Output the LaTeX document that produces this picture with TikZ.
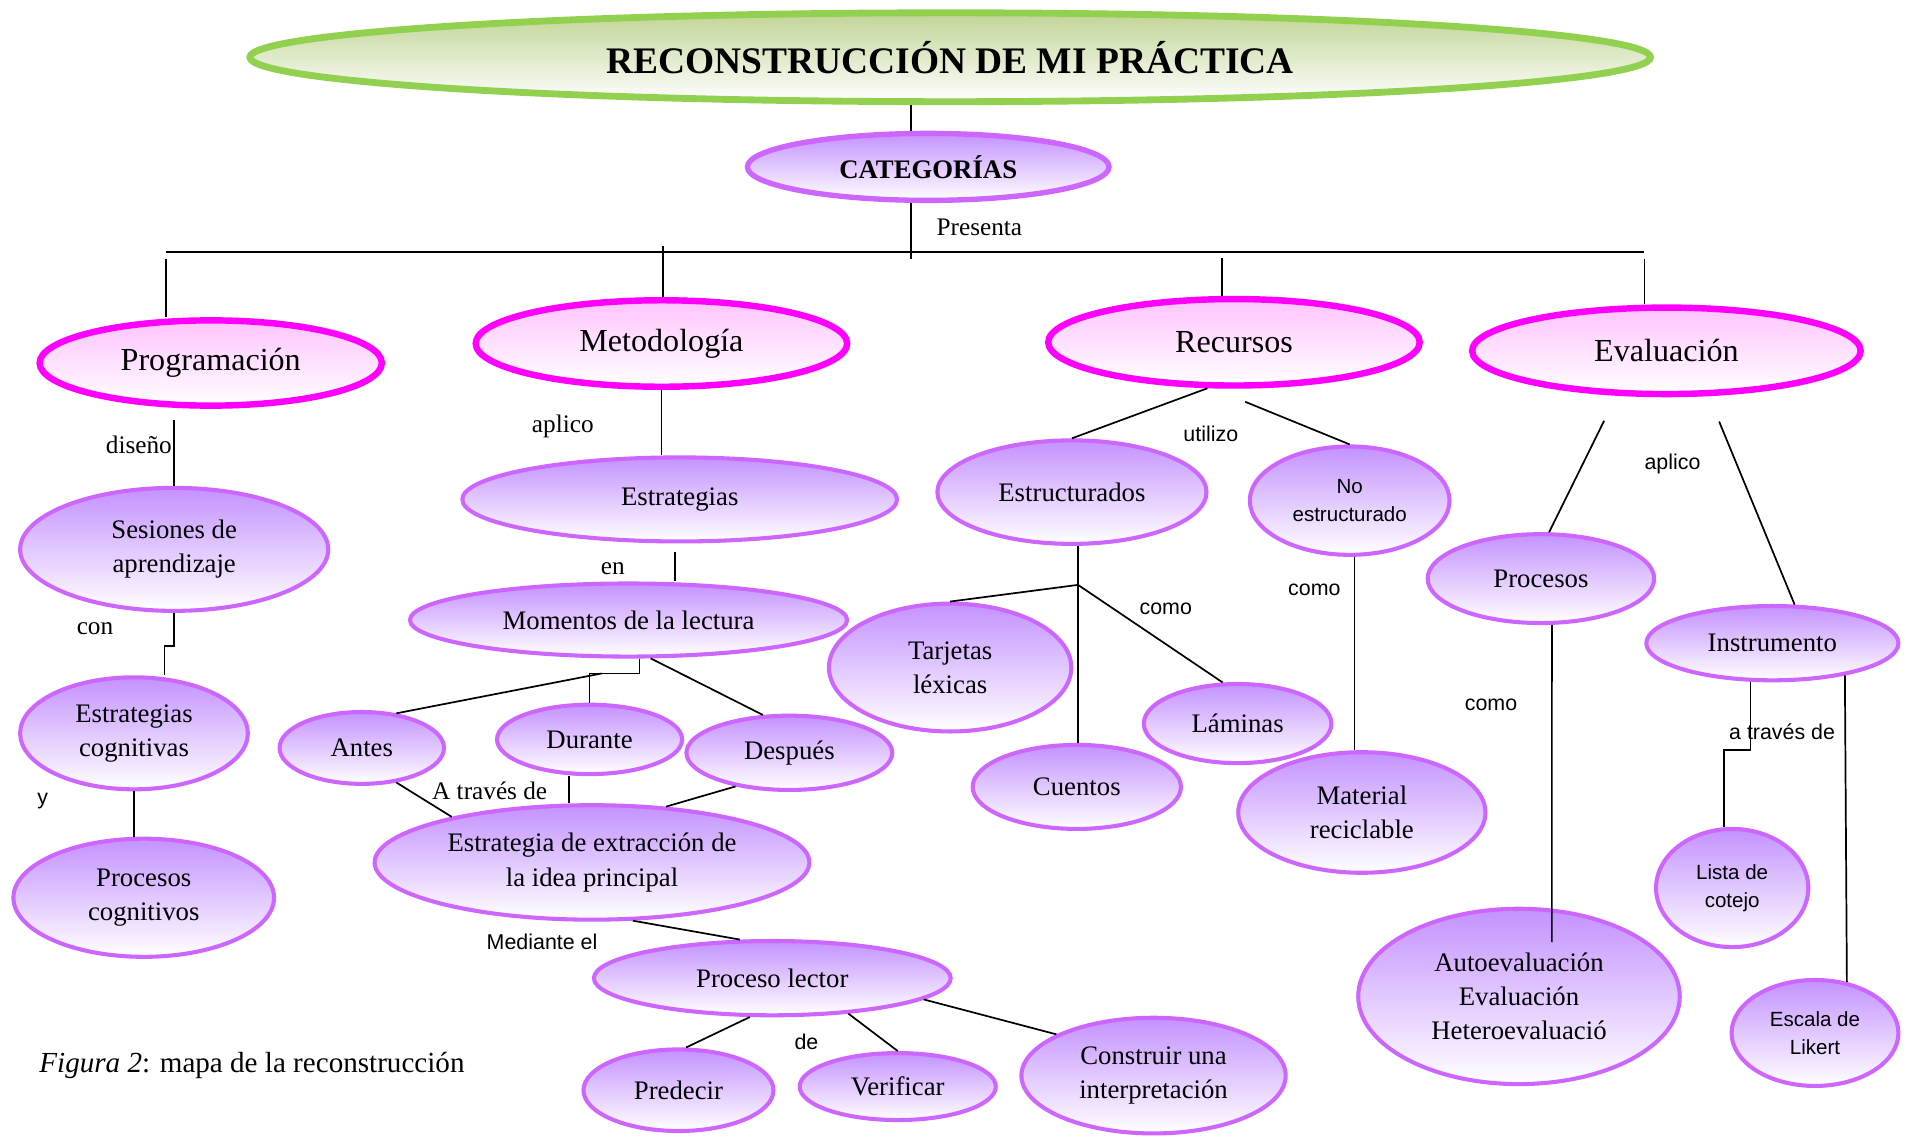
\documentclass[tikz,border=0pt]{standalone}
\usepackage{fontspec}
\setmainfont{Liberation Serif}
\newfontfamily\arial{Liberation Sans}
\usetikzlibrary{shapes.geometric}

\definecolor{verdeB}{RGB}{146,208,80}
\definecolor{verdeT}{RGB}{193,213,150}
\definecolor{magB}{RGB}{255,0,255}
\definecolor{rosaT}{RGB}{255,196,255}
\definecolor{violB}{RGB}{204,102,255}
\definecolor{lilaT}{RGB}{196,146,255}

\tikzset{
  tam/.style 2 args={minimum width=#1cm, minimum height=#2cm},
  nivel0/.style={ellipse, draw=verdeB, line width=3.2pt, top color=verdeT, bottom color=white,
    inner sep=0pt, font=\fontsize{17.5}{20}\selectfont\bfseries},
  nivel1/.style={ellipse, draw=magB, line width=3pt, top color=rosaT, bottom color=white,
    inner sep=0pt, font=\fontsize{15}{18}\selectfont},
  nivel2/.style={ellipse, draw=violB, line width=1.9pt, top color=lilaT, bottom color=white,
    inner sep=0pt, align=center, font=\fontsize{12.5}{16}\selectfont},
  nivel2s/.style={nivel2, font=\arial\fontsize{9.6}{12.8}\selectfont},
  etq/.style={inner sep=0pt, font=\fontsize{11.8}{13}\selectfont},
  etqs/.style={inner sep=0pt, font=\arial\fontsize{10}{12}\selectfont},
  con/.style={line width=0.8pt}
}

\begin{document}
\begin{tikzpicture}[x=0.02cm, y=-0.02cm]
  \useasboundingbox (0,0) rectangle (1568,933);

  % titulo y categorias
  \node[nivel0, tam={23.0}{1.46}] (title) at (780,47) {RECONSTRUCCIÓN DE MI PRÁCTICA};
  \node[nivel2, tam={5.94}{1.10}, line width=2.5pt, font=\fontsize{12.5}{15}\selectfont\bfseries] (cat) at (762,137) {CATEGORÍAS};

  % categorias principales
  \node[nivel1, tam={5.62}{1.40}] (prog) at (173,298) {Programación};
  \node[nivel1, tam={6.10}{1.42}] (meto) at (543,282) {Metodología};
  \node[nivel1, tam={6.10}{1.42}] (recu) at (1013,281) {Recursos};
  \node[nivel1, tam={6.38}{1.42}] (eval) at (1368,288) {Evaluación};

  % programacion
  \node[nivel2, tam={5.06}{2.02}] (ses) at (143,451) {Sesiones de\\aprendizaje};
  \node[nivel2, tam={3.74}{1.84}] (estcog) at (110,602) {Estrategias\\cognitivas};
  \node[nivel2, tam={4.28}{1.94}] (procog) at (118,737) {Procesos\\cognitivos};

  % metodologia
  \node[nivel2, tam={7.14}{1.38}] (estr) at (558,410) {Estrategias};
  \node[nivel2, tam={7.18}{1.20}] (mom) at (516,509) {Momentos de la lectura};
  \node[nivel2, tam={2.70}{1.18}] (antes) at (297,614) {Antes};
  \node[nivel2, tam={3.04}{1.14}] (dur) at (484,607) {Durante};
  \node[nivel2, tam={3.38}{1.22}] (desp) at (648,618) {Después};
  \node[nivel2, tam={7.14}{1.88}] (extr) at (486,708) {Estrategia de extracción de\\la idea principal};
  \node[nivel2, tam={5.86}{1.22}] (proc) at (634,803) {Proceso lector};
  \node[nivel2, tam={3.12}{1.34}] (pred) at (557,895) {Predecir};
  \node[nivel2, tam={3.22}{1.10}] (verif) at (737,892) {Verificar};
  \node[nivel2, tam={4.34}{1.90}] (constr) at (947,883) {Construir una\\interpretación};

  % recursos
  \node[nivel2, tam={4.42}{1.70}] (estru) at (880,404) {Estructurados};
  \node[nivel2s, tam={3.28}{1.78}] (noest) at (1108,411) {No\\estructurado};
  \node[nivel2, tam={3.98}{2.10}] (tarj) at (780,548) {Tarjetas\\léxicas};
  \node[nivel2, tam={3.42}{1.38}] (cuen) at (884,646) {Cuentos};
  \node[nivel2, tam={3.08}{1.30}] (lam) at (1016,594) {Láminas};
  \node[nivel2, tam={4.06}{1.98}] (mat) at (1118,667) {Material\\reciclable};

  % evaluacion
  \node[nivel2, tam={3.72}{1.46}] (procE) at (1265,475) {Procesos};
  \node[nivel2, tam={4.14}{1.22}] (inst) at (1455,528) {Instrumento};
  \node[nivel2, tam={5.28}{2.88}] (auto) at (1247,818) {Autoevaluación\\Evaluación\\Heteroevaluació};
  \node[nivel2s, tam={2.50}{1.94}] (lista) at (1422,729) {Lista de\\cotejo};
  \node[nivel2s, tam={2.74}{1.74}] (escala) at (1490,848) {Escala de\\Likert};

  % barra de categorias
  \coordinate (busC) at (748,213);
  \draw[con] (title.south -| busC) -- (cat.north -| busC);
  \draw[con] (cat.south -| busC) -- (busC);
  \draw[line width=1.1pt] (136,207) -- (1350,207);
  \foreach \n/\x/\y in {prog/136/213, meto/544/202, recu/1003/212, eval/1350/213} {
    \draw[con] (\x,\y) -- (\n.north -| \x,\y);
  }

  % conectores programacion
  \draw[con, shorten <=0.18cm] (prog.south -| ses.north) -- (ses.north);
  \draw[con] (ses.south) |- ([xshift=0.5cm,yshift=0.48cm]estcog.north) -- ([xshift=0.5cm]estcog.north);
  \draw[con] (estcog.south) -- (estcog.south |- procog.north);

  % conectores metodologia
  \draw[con] (meto.south) -- (meto.south |- estr.north);
  \draw[con, shorten <=0.14cm] ([xshift=-0.08cm]estr.south) -- ([xshift=-0.08cm]estr.south |- mom.north);
  \coordinate (momJ) at ([yshift=0.48cm]dur.north);
  \draw[con] ([xshift=0.18cm]mom.south) |- (momJ) -- (dur.north);
  \draw[con] ([xshift=0.2cm]momJ) -- (antes.45);
  \draw[con] (mom.-60) -- (desp.125);
  \draw[con] (antes.-45) -- (extr.162);
  \draw[con] ([xshift=-0.34cm]dur.south) -- ([xshift=-0.34cm]dur.south |- extr.north);
  \draw[con] (desp.-148) -- (extr.37);
  \draw[con] (extr.-55) -- (proc.130);
  \draw[con] (proc.-120) -- (pred.80);
  \draw[con] (proc.-25) -- (verif.north);
  \draw[con] (proc.-8) -- (constr.157);

  % conectores recursos
  \draw[con] (recu.-120) -- (estru.north);
  \draw[con, shorten <=0.58cm] (recu.-115) -- (noest.north);
  \coordinate (estJ) at ([xshift=0.1cm,yshift=-0.64cm]estru.south);
  \draw[con] ([xshift=0.1cm]estru.south) -- ([xshift=0.1cm]estru.south |- cuen.north);
  \draw[con] (estJ) -- (tarj.north);
  \draw[con] (estJ) -- (lam.110);
  \draw[con] ([xshift=0.08cm]noest.south) -- ([xshift=0.08cm]noest.south |- mat.north);

  % conectores evaluacion
  \draw[con, shorten <=0.46cm] (eval.-138) -- (procE.80);
  \draw[con, shorten <=0.45cm] (eval.-47) -- (inst.60);
  \draw[con] ([xshift=0.18cm]procE.south) -- ([xshift=0.54cm,yshift=-0.58cm]auto.north);
  \draw[con] ([xshift=-0.36cm]inst.south) |- ([xshift=-0.14cm,yshift=1.26cm]lista.north) -- ([xshift=-0.14cm]lista.north);
  \draw[con] (inst.-24) -- (escala.58);

  % etiquetas
  \foreach \nom/\x/\y/\t in {lPre/804/187/Presenta, lDis/114/365/diseño, lCon/78/516/con,
      lApl/462/350/aplico, lEn/503/467/en, lAtr/402/649/A través de} {
    \node[etq] (\nom) at (\x,\y) {\t};
  }
  \foreach \nom/\x/\y/\t in {lY/35/658/y, lMed/445/773/Mediante el, lDe/662/855/de,
      lUti/994/356/utilizo, lCo1/957/500/como, lCo2/1079/484/como, lApE/1373/381/aplico,
      lCo3/1224/579/como, lAtE/1463/601/a través de} {
    \node[etqs] (\nom) at (\x,\y) {\t};
  }

  \node[anchor=west, inner sep=0pt, font=\fontsize{13.6}{16}\selectfont] (cap) at (32,875)
    {\textit{Figura 2}: mapa de la reconstrucción};
\end{tikzpicture}
\end{document}
